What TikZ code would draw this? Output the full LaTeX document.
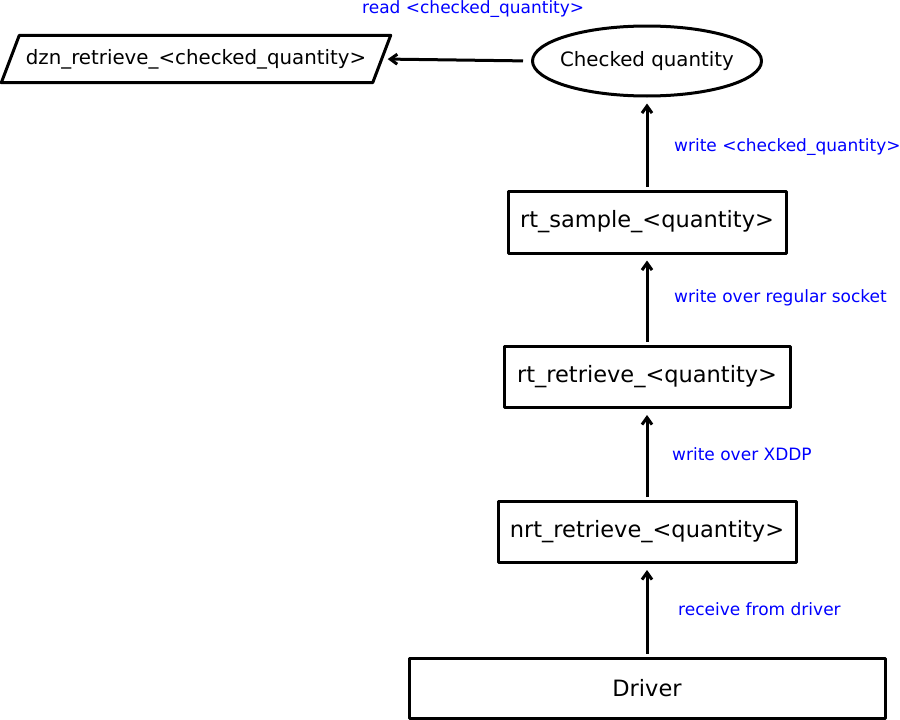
\documentclass[tikz,border=0pt]{standalone}
\usepackage{fontspec}
\setmainfont{DejaVu Sans}
\usetikzlibrary{arrows.meta,shapes.geometric}
\begin{document}
\begin{tikzpicture}[x=1pt, y=-1pt, line join=round, >={Straight Barb[length=7pt,width=10pt]},
  box/.style={draw, line width=3pt, inner sep=0pt, font=\fontsize{22.5}{26}\selectfont},
  flow/.style={->, line width=3pt, shorten >=6pt, shorten <=3pt},
  lbl/.style={text=blue, font=\fontsize{17}{20}\selectfont, anchor=west, inner sep=0pt}]
\useasboundingbox (0,0) rectangle (900,720);
% store and checked value
\node[minimum width=371pt, minimum height=47pt, inner sep=0pt,
  font=\fontsize{19.8}{23}\selectfont] (dzn) at (196,59) {dzn\_retrieve\_<checked\_quantity>};
\draw[line width=3pt] ([xshift=9pt]dzn.north west) -- ([xshift=9pt]dzn.north east)
  -- ([xshift=-9pt]dzn.south east) -- ([xshift=-9pt]dzn.south west) -- cycle;
\node[draw, line width=3pt, ellipse, minimum width=229pt, minimum height=70pt,
  inner xsep=-6pt, inner ysep=0pt,
  font=\fontsize{19.8}{23}\selectfont] (checked) at (647,61) {Checked quantity};
% processes
\node[box, minimum width=278pt, minimum height=62pt] (sample) at (647,222) {rt\_sample\_<quantity>};
\node[box, minimum width=286pt, minimum height=61pt] (rt) at (647,377) {rt\_retrieve\_<quantity>};
\node[box, minimum width=298pt, minimum height=61pt] (nrt) at (647,532) {nrt\_retrieve\_<quantity>};
\node[box, minimum width=476pt, minimum height=60pt] (driver) at (647,688) {Driver};
% data flow
\draw[flow, shorten <=8pt] (checked.west) -- (dzn.east);
\node[lbl] at (362,9) {read <checked\_quantity>};
\draw[flow] (sample.north) -- (checked.south);
\node[lbl] at (674,147) {write <checked\_quantity>};
\draw[flow] (rt.north) -- (sample.south);
\node[lbl] at (674,298) {write over regular socket};
\draw[flow] (nrt.north) -- (rt.south);
\node[lbl] at (672,454) {write over XDDP};
\draw[flow] (driver.north) -- (nrt.south);
\node[lbl] at (678,609) {receive from driver};
\end{tikzpicture}
\end{document}
